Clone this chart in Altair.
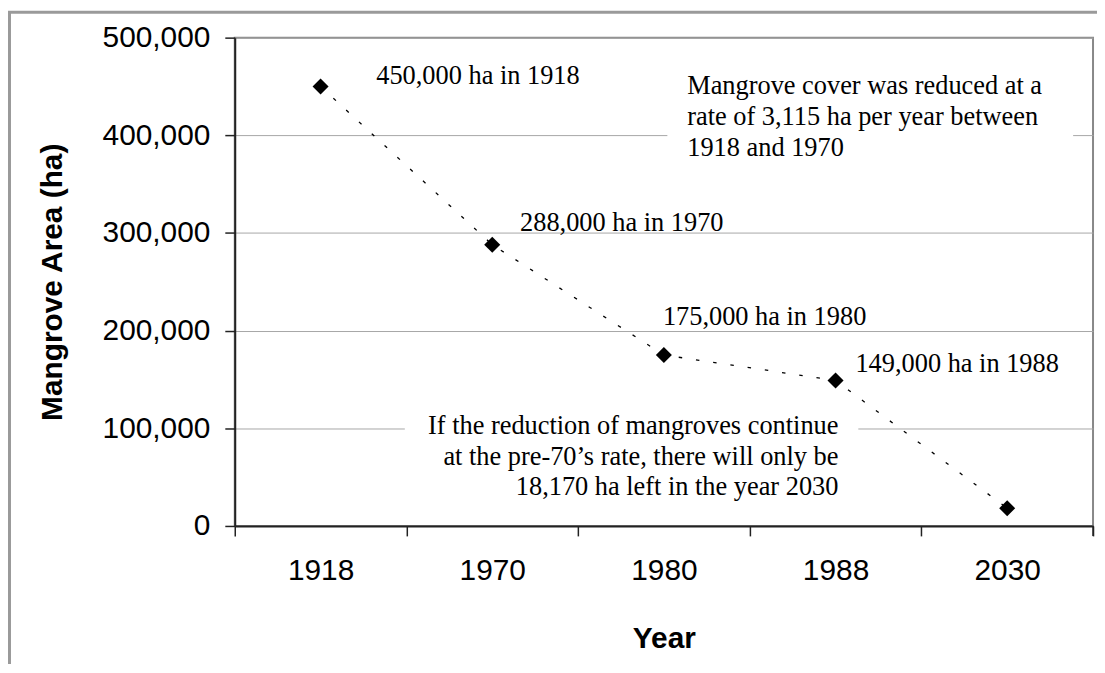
import altair as alt
import pandas as pd

# ---- data ----
years = ["1918", "1970", "1980", "1988", "2030"]
area = [450000, 288000, 175000, 149000, 18170]
point_labels = ["450,000 ha in 1918", "288,000 ha in 1970", "175,000 ha in 1980",
                "149,000 ha in 1988", ""]
y_ticks = [0, 100000, 200000, 300000, 400000, 500000]
note_top = ["Mangrove cover was reduced at a",
            "rate of 3,115 ha per year between",
            "1918 and 1970"]
note_bottom = ["If the reduction of mangroves continue",
               "at the pre-70\u2019s rate, there will only be",
               "18,170 ha left in the year 2030"]

# ---- style / layout ----
W, H = 863, 491
SANS = "Liberation Sans"
SERIF = "Liberation Serif"
LABEL_OFFSETS = {"1918": (56, -10), "1970": (28, -22), "1980": (-1, -38), "1988": (20, -16)}

df = pd.DataFrame({"year": years, "area": area, "label": point_labels})
one = alt.Data(values=[{}])

x_enc = alt.X(
    "year:N", sort=years,
    scale=alt.Scale(type="band", paddingInner=0, paddingOuter=0),
    axis=alt.Axis(title="Year", tickBand="extent", labelAngle=0,
                  labelFont=SANS, labelFontSize=30, labelColor="black",
                  labelBaseline="middle", labelPadding=35,
                  tickSize=10, tickColor="#222", tickWidth=1.5,
                  domainColor="#222", domainWidth=2, grid=False,
                  titleFont=SANS, titleFontSize=30, titleFontWeight="bold",
                  titleColor="black", titleY=113, titleBaseline="middle"),
)
y_enc = alt.Y(
    "area:Q",
    scale=alt.Scale(domain=[0, 500000], nice=False, zero=True),
    axis=alt.Axis(title="Mangrove Area (ha)", values=y_ticks, format=",.0f",
                  labelFont=SANS, labelFontSize=30, labelColor="black",
                  labelPadding=15, tickSize=10, tickColor="#222", tickWidth=1.5,
                  domainColor="#222", domainWidth=2,
                  grid=True, gridColor="#a6a6a6", gridWidth=1,
                  titleFont=SANS, titleFontSize=30, titleFontWeight="bold",
                  titleColor="black", titleAngle=270, titleX=-183, titleY=H / 2,
                  titleAlign="center", titleBaseline="middle"),
)

base = alt.Chart(df)

frame = alt.Chart(one).mark_rect(fillOpacity=0, stroke="#9a9a9a", strokeWidth=3).encode(
    x=alt.value(-226.5), x2=alt.value(W + 60), y=alt.value(-25.5), y2=alt.value(H + 200)
)
box_top = alt.Chart(one).mark_rect(fill="white").encode(
    x=alt.value(435), x2=alt.value(843), y=alt.value(24), y2=alt.value(136)
)
box_bottom = alt.Chart(one).mark_rect(fill="white").encode(
    x=alt.value(171), x2=alt.value(627), y=alt.value(372), y2=alt.value(466)
)

line = base.mark_line(color="black", strokeWidth=1.3, strokeDash=[3.5, 14]).encode(
    x=x_enc, y=y_enc
)
points = base.mark_point(shape="diamond", filled=True, size=260, color="black", opacity=1).encode(
    x=x_enc, y=y_enc
)

label_layers = []
for yr, (dx, dy) in LABEL_OFFSETS.items():
    label_layers.append(
        base.transform_filter(alt.datum.year == yr).mark_text(
            align="left", baseline="middle", dx=dx, dy=dy,
            font=SERIF, fontSize=26.5, color="black"
        ).encode(x=x_enc, y=y_enc, text="label:N")
    )

text_top = alt.Chart(one).mark_text(
    text=note_top, align="left", baseline="middle", lineHeight=31,
    font=SERIF, fontSize=26.5, color="black"
).encode(x=alt.value(455), y=alt.value(49))

text_bottom = alt.Chart(one).mark_text(
    text=note_bottom, align="right", baseline="middle", lineHeight=30.5,
    font=SERIF, fontSize=26.5, color="black"
).encode(x=alt.value(607), y=alt.value(391))

end_tick = alt.Chart(one).mark_rule(color="#222", strokeWidth=1.5).encode(
    x=alt.value(W), y=alt.value(H), y2=alt.value(H + 10)
)

chart = alt.layer(
    frame, box_top, box_bottom, line, points, *label_layers, text_top, text_bottom, end_tick
).properties(
    width=W, height=H,
    autosize=alt.AutoSizeParams(type="none"),
    padding={"left": 228, "top": 28, "right": 4, "bottom": 137},
    background="white",
).configure_view(stroke="#888888", strokeWidth=2)

chart.save("out.html", embed_options={"renderer": "svg", "actions": False})
